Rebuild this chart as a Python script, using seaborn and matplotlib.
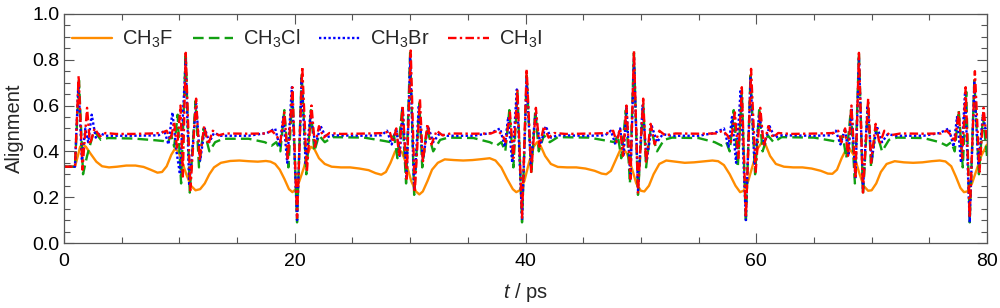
import matplotlib
matplotlib.use("Agg")
import matplotlib.pyplot as plt
from matplotlib.ticker import MultipleLocator
import seaborn as sns

# CH3F (orange, solid)
t_f = [0, 0.95, 1.15, 1.4, 1.6, 1.9, 2.3, 2.8, 3.3, 3.9, 4.6, 5.4, 6.2, 6.9, 7.5, 8.1, 8.5,
       8.9, 9.3, 9.6, 9.9, 10.2, 10.6, 11.0, 11.4, 11.8, 12.2, 12.6, 13.0, 13.6, 14.4, 15.2,
       16.0, 16.8, 17.5, 17.9, 18.3, 18.7, 19.1, 19.5, 19.8, 20.1, 20.4, 20.8, 21.1, 21.4,
       21.7, 22.1, 22.6, 23.2, 24.0, 24.8, 25.6, 26.4, 27.0, 27.5, 27.9, 28.3, 28.7, 29.0,
       29.3, 29.7, 30.1, 30.5, 30.8, 31.1, 31.5, 31.9, 32.4, 33.0, 33.8, 34.6, 35.4, 36.2,
       36.9, 37.4, 37.9, 38.4, 38.9, 39.2, 39.5, 39.9, 40.3, 40.7, 41.0, 41.3, 41.7, 42.2,
       42.8, 43.6, 44.4, 45.2, 46.0, 46.6, 47.0, 47.4, 47.8, 48.2, 48.5, 48.8, 49.2, 49.6,
       50.0, 50.3, 50.7, 51.1, 51.6, 52.2, 53.0, 53.8, 54.6, 55.4, 56.2, 56.7, 57.2, 57.7,
       58.2, 58.6, 58.9, 59.3, 59.7, 60.1, 60.5, 60.8, 61.2, 61.7, 62.4, 63.2, 64.0, 64.8,
       65.6, 66.2, 66.6, 67.0, 67.4, 67.8, 68.1, 68.5, 68.9, 69.3, 69.7, 70.0, 70.4, 70.8,
       71.3, 72.0, 72.8, 73.6, 74.4, 75.2, 75.9, 76.4, 76.9, 77.3, 77.7, 78.0, 78.3, 78.7,
       79.1, 79.5, 80.0]
v_f = [0.333, 0.333, 0.37, 0.42, 0.43, 0.42, 0.39, 0.355, 0.335, 0.33, 0.333, 0.338, 0.338,
       0.332, 0.32, 0.307, 0.31, 0.335, 0.385, 0.41, 0.40, 0.36, 0.30, 0.25, 0.23, 0.235, 0.26,
       0.30, 0.33, 0.35, 0.358, 0.36, 0.357, 0.355, 0.358, 0.355, 0.345, 0.32, 0.28, 0.235,
       0.222, 0.235, 0.27, 0.33, 0.39, 0.42, 0.41, 0.37, 0.345, 0.333, 0.33, 0.33, 0.325, 0.318,
       0.305, 0.298, 0.31, 0.35, 0.40, 0.41, 0.395, 0.34, 0.27, 0.225, 0.212, 0.225, 0.27, 0.32,
       0.35, 0.365, 0.362, 0.36, 0.362, 0.366, 0.37, 0.36, 0.33, 0.28, 0.235, 0.222, 0.23, 0.27,
       0.35, 0.42, 0.44, 0.425, 0.38, 0.345, 0.332, 0.33, 0.33, 0.325, 0.315, 0.303, 0.30, 0.315,
       0.36, 0.405, 0.41, 0.39, 0.33, 0.26, 0.228, 0.225, 0.25, 0.30, 0.345, 0.36, 0.355, 0.35,
       0.352, 0.356, 0.36, 0.357, 0.34, 0.30, 0.25, 0.222, 0.228, 0.27, 0.34, 0.41, 0.44, 0.43,
       0.38, 0.345, 0.333, 0.33, 0.33, 0.325, 0.315, 0.303, 0.302, 0.32, 0.37, 0.41, 0.41, 0.38,
       0.31, 0.25, 0.228, 0.23, 0.26, 0.31, 0.345, 0.357, 0.352, 0.35, 0.352, 0.357, 0.36, 0.356,
       0.335, 0.29, 0.24, 0.222, 0.225, 0.26, 0.32, 0.38, 0.43]

# CH3Cl (green, dashed)
t_cl = [0, 0.95, 1.3, 1.65, 2.0, 2.6, 3.2, 3.8, 6.0, 8.0, 8.6,
        9.0, 9.3, 9.55, 9.85, 10.15, 10.55, 10.9, 11.4, 11.7, 12.1, 12.6, 13.1, 13.8, 16.0, 17.4,
        18.0, 18.4, 18.75, 19.1, 19.45, 19.8, 20.2, 20.6, 21.0, 21.4, 21.7, 22.1, 22.6, 23.3, 26.0, 27.8,
        28.3, 28.6, 28.9, 29.3, 29.65, 30.0, 30.35, 30.8, 31.05, 31.45, 32.0, 32.6, 33.3, 35.5, 36.9,
        37.5, 37.9, 38.25, 38.6, 38.95, 39.3, 39.7, 40.1, 40.5, 40.85, 41.15, 41.6, 42.1, 42.8, 45.5, 47.2,
        47.7, 48.0, 48.3, 48.7, 49.05, 49.4, 49.75, 50.2, 50.45, 50.85, 51.4, 52.0, 52.7, 55.0, 56.4,
        57.0, 57.4, 57.7, 58.05, 58.4, 58.75, 59.1, 59.5, 59.9, 60.25, 60.55, 61.0, 61.5, 62.2, 65.0, 66.7,
        67.2, 67.5, 67.8, 68.2, 68.55, 68.9, 69.25, 69.7, 69.95, 70.35, 70.9, 71.5, 72.2, 74.5, 75.9,
        76.5, 76.9, 77.2, 77.55, 77.9, 78.2, 78.5, 78.9, 79.3, 79.65, 80.0]
v_cl = [0.333, 0.333, 0.71, 0.30, 0.38, 0.49, 0.45, 0.458, 0.456, 0.448, 0.445,
        0.44, 0.47, 0.42, 0.56, 0.26, 0.83, 0.22, 0.62, 0.33, 0.50, 0.40, 0.44, 0.455, 0.455, 0.44,
        0.425, 0.44, 0.40, 0.58, 0.33, 0.66, 0.09, 0.74, 0.30, 0.58, 0.40, 0.47, 0.44, 0.462, 0.46, 0.445,
        0.44, 0.47, 0.37, 0.58, 0.26, 0.83, 0.21, 0.61, 0.33, 0.50, 0.40, 0.45, 0.46, 0.458, 0.44,
        0.425, 0.44, 0.40, 0.58, 0.33, 0.66, 0.09, 0.73, 0.30, 0.58, 0.40, 0.47, 0.44, 0.462, 0.46, 0.445,
        0.44, 0.47, 0.37, 0.58, 0.26, 0.83, 0.21, 0.61, 0.33, 0.50, 0.40, 0.45, 0.46, 0.458, 0.44,
        0.425, 0.44, 0.40, 0.58, 0.33, 0.66, 0.09, 0.73, 0.30, 0.58, 0.40, 0.47, 0.44, 0.462, 0.46, 0.445,
        0.44, 0.47, 0.37, 0.58, 0.26, 0.83, 0.21, 0.61, 0.33, 0.50, 0.40, 0.45, 0.46, 0.458, 0.44,
        0.425, 0.44, 0.40, 0.58, 0.33, 0.66, 0.09, 0.71, 0.30, 0.55, 0.38]

# CH3Br (blue, dotted)
t_br = [0, 0.95, 1.25, 1.55, 1.85, 2.1, 2.4, 2.75, 3.1, 3.6, 6.0, 8.2,
        8.7, 9.05, 9.4, 9.75, 10.05, 10.3, 10.55, 10.85, 11.2, 11.45, 11.8, 12.2, 12.6, 13.0, 13.6, 16.0, 17.6,
        18.3, 18.7, 19.0, 19.35, 19.75, 20.2, 20.6, 20.95, 21.35, 21.8, 22.25, 22.7, 23.3, 26.0, 27.5,
        28.0, 28.4, 28.8, 29.1, 29.35, 29.7, 30.0, 30.35, 30.75, 31.1, 31.55, 32.0, 32.5, 33.2, 35.5, 37.0,
        37.8, 38.2, 38.5, 38.85, 39.25, 39.7, 40.1, 40.45, 40.85, 41.3, 41.75, 42.2, 42.8, 45.5, 46.9,
        47.4, 47.8, 48.2, 48.5, 48.75, 49.1, 49.4, 49.75, 50.15, 50.5, 50.95, 51.4, 51.9, 52.6, 55.0, 56.4,
        57.2, 57.6, 57.9, 58.25, 58.65, 59.1, 59.5, 59.85, 60.25, 60.7, 61.15, 61.6, 62.2, 65.0, 66.4,
        66.9, 67.3, 67.7, 68.0, 68.25, 68.6, 68.9, 69.25, 69.65, 70.0, 70.45, 70.9, 71.4, 72.1, 74.5, 75.9,
        76.7, 77.1, 77.4, 77.75, 78.1, 78.5, 78.9, 79.25, 79.65, 80.0]
v_br = [0.333, 0.333, 0.70, 0.36, 0.50, 0.44, 0.56, 0.46, 0.48, 0.468, 0.468, 0.47,
        0.49, 0.43, 0.57, 0.40, 0.30, 0.55, 0.80, 0.25, 0.45, 0.61, 0.36, 0.50, 0.44, 0.48, 0.468, 0.468, 0.48,
        0.50, 0.42, 0.55, 0.35, 0.68, 0.10, 0.72, 0.34, 0.56, 0.43, 0.51, 0.46, 0.47, 0.468, 0.47,
        0.49, 0.43, 0.50, 0.38, 0.59, 0.28, 0.81, 0.23, 0.60, 0.36, 0.51, 0.44, 0.475, 0.468, 0.468, 0.48,
        0.50, 0.42, 0.55, 0.35, 0.67, 0.10, 0.72, 0.34, 0.56, 0.43, 0.51, 0.46, 0.47, 0.468, 0.47,
        0.49, 0.43, 0.50, 0.38, 0.59, 0.28, 0.81, 0.23, 0.60, 0.36, 0.51, 0.44, 0.475, 0.468, 0.468, 0.48,
        0.50, 0.42, 0.55, 0.35, 0.67, 0.10, 0.72, 0.34, 0.56, 0.43, 0.51, 0.46, 0.47, 0.468, 0.47,
        0.49, 0.43, 0.50, 0.38, 0.59, 0.28, 0.81, 0.23, 0.60, 0.36, 0.51, 0.44, 0.475, 0.468, 0.468, 0.48,
        0.50, 0.42, 0.55, 0.35, 0.66, 0.09, 0.70, 0.34, 0.56, 0.46]

# CH3I (red, dash-dot)
t_i = [0, 0.95, 1.27, 1.6, 2.0, 2.25, 2.65, 3.1, 3.6, 4.5, 6.0, 7.5, 8.4,
       8.9, 9.25, 9.55, 9.8, 10.1, 10.3, 10.55, 10.95, 11.45, 11.75, 12.15, 12.5, 12.9, 13.4, 14.0, 16.0, 17.5,
       18.0, 18.4, 18.75, 19.1, 19.4, 19.8, 20.2, 20.65, 21.05, 21.45, 21.75, 22.1, 22.5, 23.0, 24.0, 26.5, 27.8,
       28.2, 28.5, 28.8, 29.05, 29.35, 29.7, 30.05, 30.4, 30.85, 31.1, 31.5, 31.85, 32.3, 32.8, 33.5, 35.5, 37.0,
       37.6, 38.0, 38.3, 38.65, 38.95, 39.3, 39.7, 40.1, 40.5, 40.9, 41.2, 41.6, 42.0, 42.5, 43.5, 46.0, 47.2,
       47.6, 47.9, 48.2, 48.45, 48.75, 49.1, 49.4, 49.75, 50.2, 50.45, 50.85, 51.2, 51.6, 52.1, 53.0, 55.0, 56.5,
       57.1, 57.5, 57.8, 58.15, 58.45, 58.75, 59.1, 59.55, 59.95, 60.35, 60.65, 61.05, 61.45, 61.9, 63.0, 65.5, 66.7,
       67.1, 67.4, 67.7, 67.95, 68.25, 68.6, 68.9, 69.25, 69.7, 69.95, 70.35, 70.7, 71.1, 71.6, 72.5, 74.5, 76.0,
       76.5, 76.9, 77.2, 77.55, 77.85, 78.15, 78.5, 78.95, 79.35, 79.7, 80.0]
v_i = [0.333, 0.333, 0.73, 0.32, 0.59, 0.43, 0.50, 0.465, 0.48, 0.476, 0.476, 0.478, 0.48,
       0.49, 0.45, 0.53, 0.41, 0.60, 0.29, 0.83, 0.23, 0.63, 0.36, 0.51, 0.43, 0.49, 0.47, 0.478, 0.477, 0.478,
       0.49, 0.47, 0.44, 0.57, 0.36, 0.68, 0.11, 0.77, 0.31, 0.60, 0.42, 0.51, 0.46, 0.48, 0.476, 0.478, 0.48,
       0.49, 0.44, 0.50, 0.38, 0.60, 0.28, 0.84, 0.22, 0.63, 0.35, 0.52, 0.43, 0.49, 0.47, 0.478, 0.477, 0.478,
       0.49, 0.47, 0.44, 0.57, 0.37, 0.67, 0.11, 0.76, 0.31, 0.59, 0.42, 0.51, 0.46, 0.48, 0.476, 0.478, 0.48,
       0.49, 0.44, 0.50, 0.38, 0.60, 0.28, 0.84, 0.22, 0.63, 0.35, 0.52, 0.43, 0.49, 0.47, 0.478, 0.477, 0.478,
       0.49, 0.47, 0.44, 0.57, 0.37, 0.68, 0.11, 0.76, 0.31, 0.59, 0.42, 0.51, 0.46, 0.48, 0.476, 0.478, 0.48,
       0.49, 0.44, 0.50, 0.38, 0.60, 0.28, 0.83, 0.22, 0.63, 0.35, 0.52, 0.43, 0.49, 0.47, 0.478, 0.477, 0.478,
       0.49, 0.47, 0.44, 0.57, 0.37, 0.68, 0.11, 0.75, 0.31, 0.59, 0.44]

sns.set_style("ticks")
plt.rcParams['font.family'] = ['Liberation Sans', 'DejaVu Sans']
plt.rcParams['mathtext.fontset'] = 'custom'
plt.rcParams['mathtext.rm'] = 'Liberation Sans'
plt.rcParams['mathtext.it'] = 'Liberation Sans:italic'

fig = plt.figure(figsize=(10, 3.08), dpi=100)
ax = fig.add_axes([0.064, 0.211, 0.923, 0.744])

lw = 1.7
sns.lineplot(x=t_f, y=v_f, ax=ax, color="#ff8c00", lw=lw, estimator=None, sort=False,
             label="CH$_3$F")
sns.lineplot(x=t_cl, y=v_cl, ax=ax, color="#12a012", lw=lw, estimator=None, sort=False,
             label="CH$_3$Cl")
sns.lineplot(x=t_br, y=v_br, ax=ax, color="#0000ff", lw=lw, estimator=None, sort=False,
             label="CH$_3$Br")
sns.lineplot(x=t_i, y=v_i, ax=ax, color="#ff0000", lw=lw, estimator=None, sort=False,
             label="CH$_3$I")

# line styles: solid, dashed, dotted, dash-dot
lines = ax.get_lines()
lines[1].set_dashes((4.5, 2.2))
lines[2].set_dashes((1.0, 1.0))
lines[3].set_dashes((3.6, 1.4, 1.0, 1.4))

ax.set_xlim(0, 80)
ax.set_ylim(0, 1.0)
ax.xaxis.set_major_locator(MultipleLocator(20))
ax.xaxis.set_minor_locator(MultipleLocator(5))
ax.yaxis.set_major_locator(MultipleLocator(0.2))
ax.yaxis.set_minor_locator(MultipleLocator(0.05))
ax.yaxis.set_major_formatter(lambda v, p: f"{v:.1f}")
ax.tick_params(which="both", direction="in", top=True, right=True, colors="#555555",
               labelcolor="black", labelsize=14, width=0.8)
ax.tick_params(which="major", length=7)
ax.tick_params(which="minor", length=4)
ax.tick_params(axis="x", pad=7)
for s in ax.spines.values():
    s.set_color("#555555")
    s.set_linewidth(0.9)

ax.set_xlabel("$t$ / ps", fontsize=14.5, labelpad=8)
ax.set_ylabel("Alignment", fontsize=14.5, labelpad=6)

ax.legend(loc="center left", bbox_to_anchor=(0.0, 0.89), ncol=4, frameon=False,
          fontsize=14.5, handlelength=2.0, handletextpad=0.5, columnspacing=0.95,
          borderaxespad=0.2, borderpad=0.2)

fig.savefig("out.png", dpi=100)
